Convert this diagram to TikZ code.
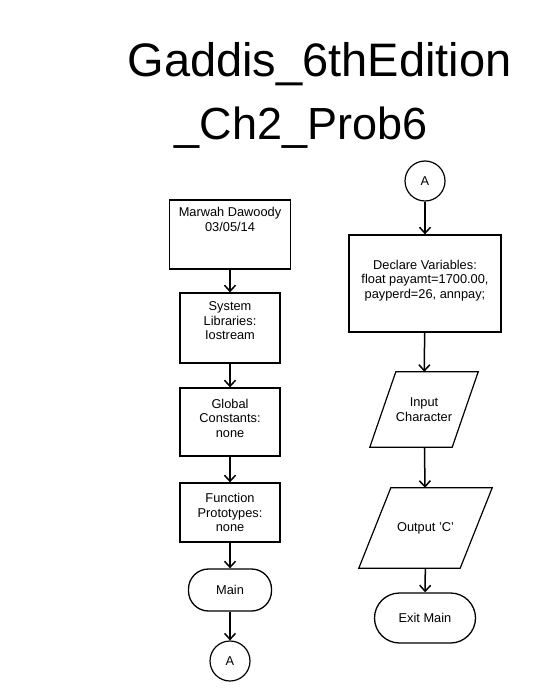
\documentclass[tikz,border=0pt]{standalone}
\usepackage{fontspec}
\setmainfont{Liberation Sans}
\usetikzlibrary{arrows.meta}

\begin{document}
\begin{tikzpicture}[x=1pt,y=-1pt,
    every node/.style={font=\fontsize{12.8}{14.5}\selectfont, align=center},
    box/.style={draw, line width=1.3pt, inner sep=0pt},
    txt/.style={anchor=north, yshift=-5pt},
    term/.style={draw, line width=1.3pt, rounded corners=20pt, inner sep=0pt},
    conn/.style={draw, circle, line width=1.2pt, minimum size=40pt, inner sep=0pt},
    io/.style={inner sep=0pt},
    ioline/.style={draw, line width=1.2pt, line join=miter},
    flow/.style={-{Straight Barb[length=6pt,width=11pt]}, line width=1.5pt}]
  \useasboundingbox (0,0) rectangle (538,700);

  % title
  \node[anchor=base west, font=\fontsize{47}{56}\selectfont] (title1) at (124,77) {Gaddis\_6thEdition};
  \node[anchor=base west, font=\fontsize{45}{56}\selectfont] (title2) at (171,140) {\_Ch2\_Prob6};

  % left column
  \node[box, line width=1.7pt, minimum width=121pt, minimum height=69pt,
    label={[txt]north:Marwah Dawoody\\03/05/14}] (author) at (230,234.5) {};
  \node[box, minimum width=100pt, minimum height=70pt,
    label={[txt, yshift=-1pt]north:System\\Libraries:\\Iostream}] (libs) at (230,328) {};
  \node[box, minimum width=100pt, minimum height=68pt,
    label={[txt, yshift=-3pt]north:Global\\Constants:\\none}] (consts) at (230,422) {};
  \node[box, minimum width=100pt, minimum height=59pt] (protos) at (230,512.5) {Function\\Prototypes:\\none};
  \node[term, minimum width=83pt, minimum height=42pt] (main) at (230,590) {Main};
  \node[conn] (outA) at (230,661) {A};

  % right column
  \node[conn] (inA) at (425,181) {A};
  \node[box, minimum width=152pt, minimum height=97pt,
    label={[txt, yshift=-17pt]north:Declare Variables:\\float payamt=1700.00,\\ payperd=26, annpay;}] (vars) at (425,283.5) {};
  \node[io, minimum width=108pt, minimum height=75pt] (input) at (424,409.5) {Input\\Character};
  \node[io, minimum width=133pt, minimum height=80pt] (output) at (425.5,528) {Output 'C'};
  \node[term, rounded corners=25pt, minimum width=101pt, minimum height=50pt] (exit) at (425,618) {Exit Main};

  % parallelograms
  \draw[ioline] ([xshift=26pt]input.north west) -- (input.north east)
    -- ([xshift=-26pt]input.south east) -- (input.south west) -- cycle;
  \draw[ioline] ([xshift=32pt]output.north west) -- (output.north east)
    -- ([xshift=-32pt]output.south east) -- (output.south west) -- cycle;

  \draw[flow] (author) -- (libs);
  \draw[flow] (libs) -- (consts);
  \draw[flow] (consts) -- (protos);
  \draw[flow] (protos) -- (main);
  \draw[flow] (main) -- (outA);
  \draw[flow] (inA) -- (vars);
  \draw[flow] (vars) -- (input);
  \draw[flow] (input) -- (output);
  \draw[flow] (output) -- (exit);
\end{tikzpicture}
\end{document}
